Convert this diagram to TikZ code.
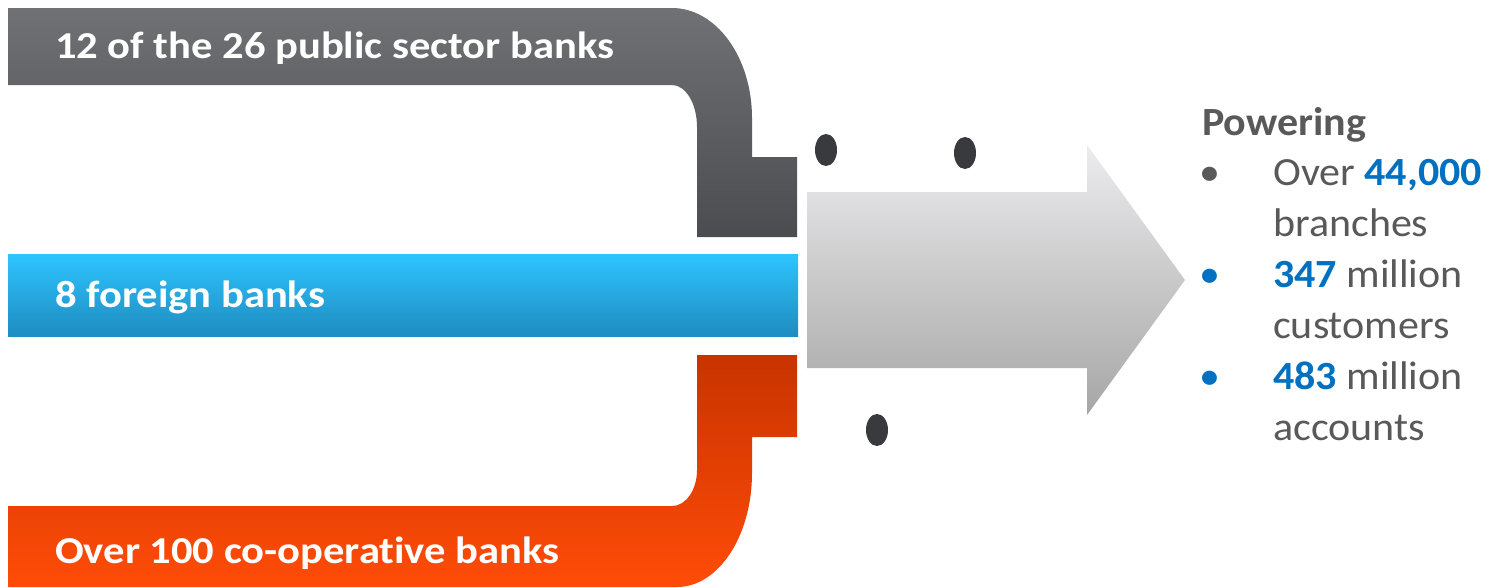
\documentclass[tikz,border=0pt]{standalone}
\usepackage{fontspec}
\setmainfont[Ligatures=NoCommon]{Carlito}
\newfontfamily\lblfont[FakeStretch=1.12,Ligatures=NoCommon]{Carlito}
\newfontfamily\txtfont[FakeStretch=1.05,Ligatures=NoCommon]{Carlito}
\usetikzlibrary{shapes.geometric}
\definecolor{greyt}{HTML}{707175}
\definecolor{greyb}{HTML}{4B4C50}
\definecolor{bluet}{HTML}{2EC4FF}
\definecolor{blueb}{HTML}{1E8CC0}
\definecolor{orat}{HTML}{C83300}
\definecolor{orab}{HTML}{FF4C08}
\definecolor{arrt}{HTML}{ECECEE}
\definecolor{arrb}{HTML}{A6A6A6}
\definecolor{dotc}{HTML}{393A3D}
\definecolor{txtc}{HTML}{595959}
\definecolor{numc}{HTML}{0070C0}
\tikzset{
  lbl/.style={font=\lblfont\bfseries\fontsize{38}{40}\selectfont,text=white,anchor=base west,inner sep=0pt},
  head/.style={font=\txtfont\bfseries\fontsize{40}{44}\selectfont,text=txtc,anchor=base west,inner sep=0pt},
  item/.style={font=\txtfont\fontsize{40}{44}\selectfont,text=txtc,anchor=base west,inner sep=0pt},
  bul/.style={item,text=#1},
  dot/.style={ellipse,fill=dotc,minimum width=22,minimum height=32,inner sep=0pt},
}
\newcommand{\bignum}[1]{{\color{numc}\bfseries #1}}

\begin{document}
\begin{tikzpicture}[x=1pt,y=-1pt]
  \useasboundingbox (0,0) rectangle (1490,587);
  % pipes
  \shade[top color=greyt,bottom color=greyb] (8,8) -- (672,8)
    arc[start angle=-90,end angle=0,x radius=80,y radius=110] -- (752,157) -- (797,157)
    -- (797,237) -- (697,237) -- (697,127)
    arc[start angle=0,end angle=-90,x radius=25,y radius=42] -- (8,85) -- cycle;
  \shade[top color=bluet,bottom color=blueb] (8,254) rectangle (798,336);
  \shade[top color=orat,bottom color=orab] (8,587) -- (677,587)
    arc[start angle=90,end angle=0,x radius=75,y radius=114] -- (752,437) -- (797,437)
    -- (797,355) -- (697,355) -- (697,470)
    arc[start angle=0,end angle=90,x radius=25,y radius=36] -- (8,506) -- cycle;
  \shade[top color=arrt,bottom color=arrb] (807,192) -- (1087,192) -- (1087,145)
    -- (1185,280) -- (1087,415) -- (1087,368) -- (807,368) -- cycle;
  \node[dot] (d1) at (826,150) {};
  \node[dot] (d2) at (965,153) {};
  \node[dot] (d3) at (877,430) {};
  \node[lbl] (psb) at (55,58) {12 of the 26 public sector banks};
  \node[lbl] (fb) at (55,307) {8 foreign banks};
  \node[lbl] (cob) at (55,563) {Over 100 co-operative banks};
  \node[head] (pw) at (1202,135) {Powering};
  \node[bul=txtc] (b1) at (1199,185) {\textbullet};
  \node[item] (i1) at (1273,185) {Over \bignum{44,000}};
  \node[item] (i1b) at (1273,236) {branches};
  \node[bul=numc] (b2) at (1199,287) {\textbullet};
  \node[item] (i2) at (1273,287) {\bignum{347} million};
  \node[item] (i2b) at (1273,338) {customers};
  \node[bul=numc] (b3) at (1199,389) {\textbullet};
  \node[item] (i3) at (1273,389) {\bignum{483} million};
  \node[item] (i3b) at (1273,440) {accounts};
\end{tikzpicture}
\end{document}
